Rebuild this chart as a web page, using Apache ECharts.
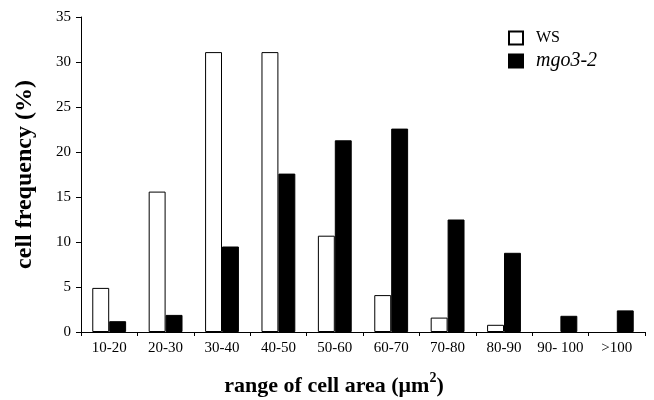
<!DOCTYPE html>
<html>
<head>
<meta charset="utf-8">
<script src="https://cdn.jsdelivr.net/npm/echarts@6/dist/echarts.min.js"></script>
<style>
  html, body { margin: 0; padding: 0; background: #fff; }
  #main { width: 654px; height: 400px; }
</style>
</head>
<body>
<div id="main"></div>
<script>
var dom = document.getElementById("main");
var myChart = echarts.init(dom);

// cell area ranges (um^2)
var categories = ['10-20', '20-30', '30-40', '40-50', '50-60', '60-70', '70-80', '80-90', '90- 100', '>100'];
// cell frequency (%)
var wsValues = [4.9, 15.6, 31.1, 31.1, 10.7, 4.1, 1.6, 0.8, 0, 0];
var mgoValues = [1.2, 1.9, 9.5, 17.6, 21.3, 22.6, 12.5, 8.8, 1.8, 2.4];
var yTicks = [0, 5, 10, 15, 20, 25, 30, 35];

var serif = 'Liberation Serif';

// empty bars are not drawn at all in the figure
function noZero(arr) {
    return arr.map(function (v) { return v === 0 ? '-' : v; });
}

var option = {
    animation: false,
    textStyle: { fontFamily: serif, color: '#000' },
    title: {
        text: '{t|range of cell area (\u03bcm}{sup|2}{t|)}',
        left: 329,
        top: 366,
        textAlign: 'center',
        textStyle: {
            fontFamily: serif, fontSize: 22, fontWeight: 'bold', color: '#000',
            rich: {
                t: { fontFamily: serif, fontSize: 22, fontWeight: 'bold', color: '#000', verticalAlign: 'bottom', lineHeight: 26 },
                sup: { fontFamily: serif, fontSize: 14, fontWeight: 'bold', color: '#000', verticalAlign: 'top', lineHeight: 26, padding: [0, 0, 10, 0] }
            }
        }
    },
    grid: { left: 81, right: 9, top: 17, bottom: 68 },
    legend: {
        orient: 'vertical',
        left: 503,
        top: 25,
        icon: 'rect',
        itemWidth: 14,
        itemHeight: 13,
        itemGap: 5,
        data: ['WS', 'mgo3-2'],
        formatter: function (name) {
            return name === 'mgo3-2' ? '{i|' + name + '}' : '{n|' + name + '}';
        },
        textStyle: {
            color: '#000',
            padding: [0, 0, 0, 8],
            rich: {
                n: { fontFamily: serif, fontSize: 16, color: '#000' },
                i: { fontFamily: serif, fontSize: 20, fontStyle: 'italic', color: '#000' }
            }
        }
    },
    xAxis: {
        type: 'category',
        data: categories,
        axisLine: { lineStyle: { color: '#000', width: 1 } },
        axisTick: { show: true, length: 4, lineStyle: { color: '#000' } },
        axisLabel: { color: '#000', fontFamily: serif, fontSize: 15, margin: 9, interval: 0 }
    },
    yAxis: {
        type: 'value',
        min: yTicks[0],
        max: yTicks[yTicks.length - 1],
        interval: 5,
        name: 'cell frequency (%)',
        nameLocation: 'middle',
        nameGap: 44,
        nameTextStyle: { fontFamily: serif, fontSize: 24, fontWeight: 'bold', color: '#000' },
        axisLine: { show: true, lineStyle: { color: '#000', width: 1 } },
        axisTick: { show: true, length: 5, lineStyle: { color: '#000' } },
        axisLabel: { color: '#000', fontFamily: serif, fontSize: 15, margin: 10 },
        splitLine: { show: false }
    },
    series: [
        {
            name: 'WS',
            type: 'bar',
            data: noZero(wsValues),
            barGap: '0%',
            barCategoryGap: '40%',
            itemStyle: { color: '#fff', borderColor: '#000', borderWidth: 1 }
        },
        {
            name: 'mgo3-2',
            type: 'bar',
            data: noZero(mgoValues),
            barGap: '0%',
            barCategoryGap: '40%',
            itemStyle: { color: '#000', borderColor: '#000', borderWidth: 1 }
        }
    ]
};
myChart.setOption(option);
</script>
</body>
</html>
